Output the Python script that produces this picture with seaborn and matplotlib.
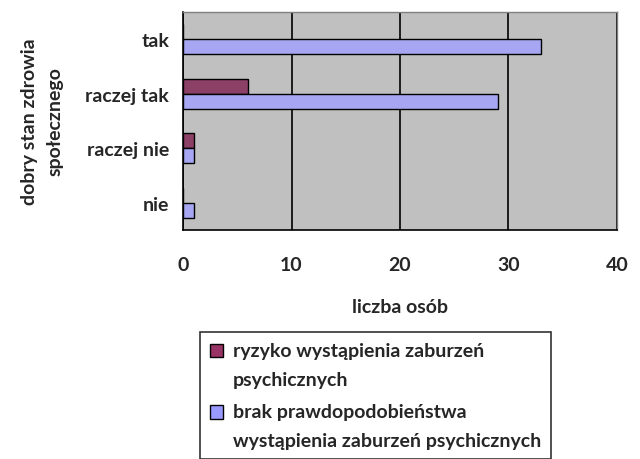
import pandas as pd
import seaborn as sns
import matplotlib.pyplot as plt
from matplotlib.ticker import FixedLocator
from matplotlib.patches import Rectangle, Patch
from matplotlib.legend_handler import HandlerPatch

# data
categories = ["tak", "raczej tak", "raczej nie", "nie"]
series_names = ["ryzyko wystąpienia zaburzeń\npsychicznych",
                "brak prawdopodobieństwa\nwystąpienia zaburzeń psychicznych"]
ryzyko = [0, 6, 1, 0]
brak = [33, 29, 1, 1]
x_ticks = [0, 10, 20, 30, 40]


class TopPatchHandler(HandlerPatch):
    # puts the legend square next to the first text line instead of the middle
    def create_artists(self, legend, orig_handle, xdescent, ydescent,
                       width, height, fontsize, trans):
        p = Rectangle(xy=(-xdescent, -ydescent + 0.75 * fontsize), width=width, height=height)
        self.update_prop(p, orig_handle, legend)
        p.set_transform(trans)
        return [p]


def main():
    df = pd.DataFrame({
        "stan": categories * 2,
        "grupa": [series_names[0]] * 4 + [series_names[1]] * 4,
        "liczba": ryzyko + brak,
    })

    sns.set_style("white")
    plt.rcParams["font.family"] = ["Lato", "DejaVu Sans"]
    plt.rcParams["font.weight"] = "bold"
    fs = 14

    fig = plt.figure(figsize=(6.4, 4.6), dpi=100)
    ax = fig.add_axes([0.286, 0.498, 0.678, 0.474])
    ax.set_facecolor("#C0C0C0")

    sns.barplot(data=df, y="stan", x="liczba", hue="grupa", order=categories,
                hue_order=series_names, palette=["#993366", "#9999FF"],
                edgecolor="black", linewidth=1, width=0.55, orient="h",
                ax=ax, zorder=3)

    ax.set_xlim(0, 40)
    ax.set_ylim(3.5, -0.5)
    ax.set_xticks(x_ticks)
    ax.set_xticklabels([str(v) for v in x_ticks], fontsize=fs, fontweight="bold")
    ax.set_yticklabels(categories, fontsize=fs, fontweight="bold")
    ax.tick_params(axis="y", which="major", length=0, pad=10)
    ax.yaxis.set_minor_locator(FixedLocator([-0.5, 0.5, 1.5, 2.5, 3.5]))
    ax.tick_params(axis="y", which="minor", length=5, width=1.2, color="black", direction="out")
    ax.tick_params(axis="x", which="major", length=5, width=1.2, color="black", direction="out", pad=14)

    ax.grid(axis="x", color="black", linewidth=1.2, zorder=1)
    ax.set_axisbelow(True)
    for side in ["left", "bottom"]:
        ax.spines[side].set_color("black")
        ax.spines[side].set_linewidth(1.2)
    for side in ["top", "right"]:
        ax.spines[side].set_color("#808080")
        ax.spines[side].set_linewidth(1)

    ax.set_xlabel("liczba osób", fontsize=fs, fontweight="bold", labelpad=18)
    ax.set_ylabel("dobry stan zdrowia\nspołecznego", fontsize=fs, fontweight="bold",
                  labelpad=16, linespacing=1.6)

    handles = [Patch(facecolor=c, edgecolor="black", linewidth=1) for c in ["#993366", "#9999FF"]]
    leg = ax.legend(handles, series_names, loc="upper left", bbox_to_anchor=(0.3125, 0.276),
                    bbox_transform=fig.transFigure, handler_map={Patch: TopPatchHandler()},
                    prop={"size": fs, "weight": "bold"}, frameon=True, fancybox=False,
                    edgecolor="black", handlelength=0.7, handleheight=0.7, handletextpad=0.5,
                    labelspacing=0.8, borderpad=0.5, borderaxespad=0)
    leg.get_frame().set_linewidth(1.2)
    for t in leg.get_texts():
        t.set_linespacing(1.85)

    fig.savefig("out.png", dpi=100)


if __name__ == "__main__":
    main()
